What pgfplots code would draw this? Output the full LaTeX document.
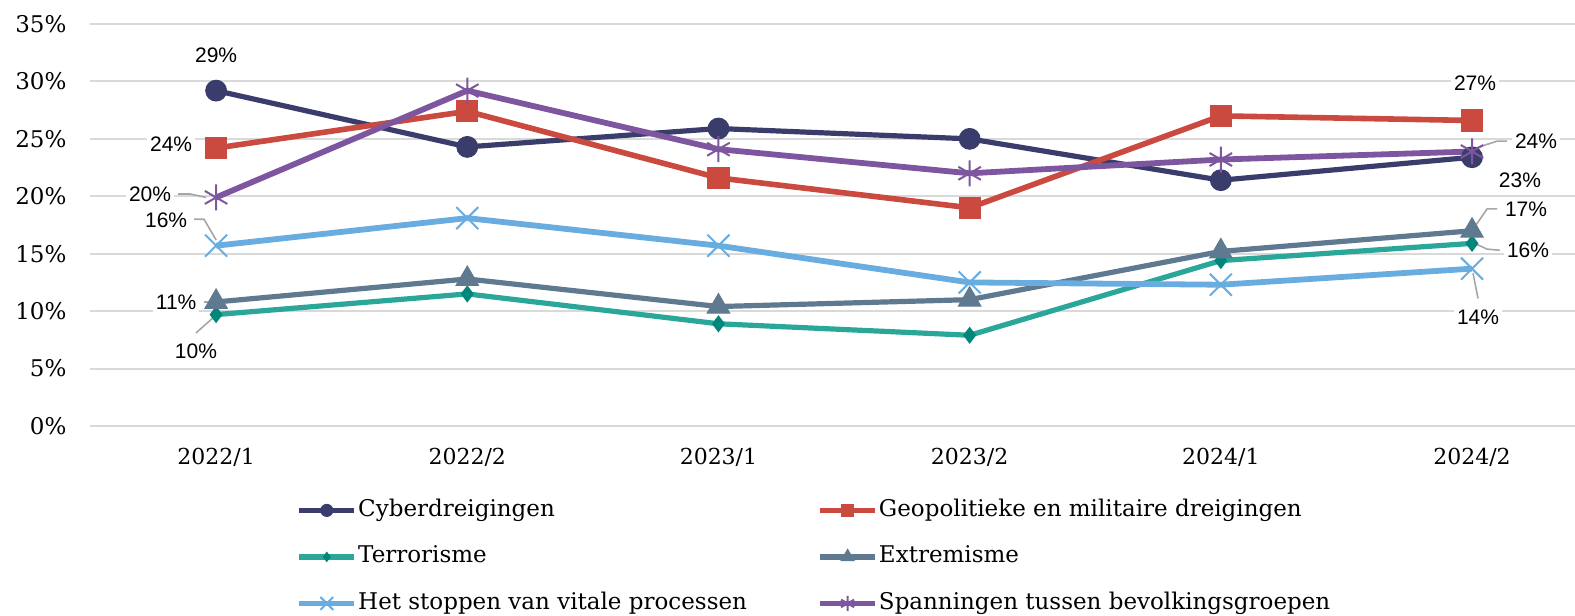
\documentclass[border=0pt]{standalone}
\usepackage{fontspec}
\setmainfont{DejaVu Serif}
\newfontfamily\lblfont{Liberation Sans}
\usepackage{pgfplots}
\pgfplotsset{compat=1.18}
\definecolor{cyber}{HTML}{3A3D6B}
\definecolor{geo}{HTML}{CB4A3F}
\definecolor{terror}{HTML}{2BA79A}
\definecolor{terrormk}{HTML}{008779}
\definecolor{extrem}{HTML}{5F7991}
\definecolor{vitale}{HTML}{69ADE0}
\definecolor{span}{HTML}{7E559F}
\definecolor{gridc}{HTML}{D9D9D9}
\definecolor{leadc}{HTML}{A6A6A6}
\begin{document}
\begin{tikzpicture}
\useasboundingbox (-45.25pt,-95pt) rectangle (742.25pt,213pt);
\begin{axis}[
  at={(0,0)}, anchor=south west,
  scale only axis, width=742.25pt, height=201pt,
  xmin=-0.5, xmax=5.41, ymin=0, ymax=35,
  axis line style={draw=none},
  xtick={0,1,2,3,4,5},
  xticklabels={2022/1,2022/2,2023/1,2023/2,2024/1,2024/2},
  ytick={0,5,10,15,20,25,30,35},
  yticklabels={0\%,5\%,10\%,15\%,20\%,25\%,30\%,35\%},
  tick style={draw=none},
  ymajorgrids, major grid style={gridc, line width=1pt},
  xticklabel style={font=\fontsize{11}{13}\selectfont, anchor=center, yshift=-15.5pt},
  yticklabel style={font=\fontsize{11.5}{13}\selectfont, anchor=east, xshift=-8.5pt},
  clip=false,
  legend columns=2,
  legend cell align=left,
  legend style={draw=none, fill=none, inner sep=0pt,
    at={(axis description cs:0,0)}, anchor=north west,
    xshift=102.75pt, yshift=-34.5pt,
    font=\fontsize{11.5}{13}\selectfont,
    row sep=8.25pt, column sep=0pt,
    nodes={inner ysep=2pt, inner xsep=0.5pt, text height=8.5pt, text depth=2.5pt}},
  legend image code/.code={%
    \draw[mark repeat=2, mark phase=2, #1, every mark/.append style={scale=0.58}]
      plot coordinates {(0pt,0pt) (13.75pt,0pt) (27.5pt,0pt)};},
]
\addplot[cyber, line width=2.6pt, mark=*, mark size=5.2pt, mark options={fill=cyber, draw=cyber, line width=0.5pt}]
  coordinates {(0,29.2) (1,24.3) (2,25.9) (3,25.0) (4,21.4) (5,23.4)};
\addlegendentry{\makebox[229pt][l]{Cyberdreigingen}}
\addplot[geo, line width=2.8pt, mark=square*, mark size=5.3pt, mark options={fill=geo, draw=geo, line width=0.5pt}]
  coordinates {(0,24.2) (1,27.4) (2,21.6) (3,19.0) (4,27.0) (5,26.6)};
\addlegendentry{Geopolitieke en militaire dreigingen}
\addplot[terror, line width=2.6pt, mark=diamond*, mark size=3.9pt, mark options={fill=terrormk, draw=terrormk, line width=0.5pt}]
  coordinates {(0,9.7) (1,11.5) (2,8.9) (3,7.9) (4,14.4) (5,15.9)};
\addlegendentry{\makebox[229pt][l]{Terrorisme}}
\addplot[extrem, line width=2.6pt, mark=triangle*, mark size=6.5pt, mark options={fill=extrem, draw=extrem, line width=0.5pt}]
  coordinates {(0,10.8) (1,12.8) (2,10.4) (3,11.0) (4,15.2) (5,17.0)};
\addlegendentry{Extremisme}
\addplot[vitale, line width=2.9pt, mark=x, mark size=7.8pt, mark options={draw=vitale, line width=1pt}]
  coordinates {(0,15.7) (1,18.1) (2,15.7) (3,12.5) (4,12.3) (5,13.7)};
\addlegendentry{\makebox[229pt][l]{Het stoppen van vitale processen}}
\addplot[span, line width=2.9pt, mark=asterisk, mark size=6.5pt, mark options={draw=span, line width=1pt}]
  coordinates {(0,19.9) (1,29.2) (2,24.1) (3,22.0) (4,23.2) (5,23.9)};
\addlegendentry{Spanningen tussen bevolkingsgroepen}

% leader lines
\draw[leadc, line width=0.8pt] (axis cs:-0.151,20.2) -- (axis cs:-0.103,20.2) -- (axis cs:-0.04,19.9);
\draw[leadc, line width=0.8pt] (axis cs:-0.0875,18.0) -- (axis cs:-0.048,18.0) -- (axis cs:0,16.2);
\draw[leadc, line width=0.8pt] (axis cs:-0.048,10.8) -- (axis cs:0.004,10.8);
\draw[leadc, line width=0.8pt] (axis cs:-0.08,8.1) -- (axis cs:0,9.66);
\draw[leadc, line width=0.8pt] (axis cs:5.139,24.8) -- (axis cs:5.1,24.8) -- (axis cs:5.0,24.1);
\draw[leadc, line width=0.8pt] (axis cs:5.1,18.9) -- (axis cs:5.06,18.9) -- (axis cs:5.0,17.0);
\draw[leadc, line width=0.8pt] (axis cs:5.111,15.3) -- (axis cs:5.06,15.4) -- (axis cs:5.0,16.0);
\draw[leadc, line width=0.8pt] (axis cs:5.024,11.1) -- (axis cs:5.004,13.3);

% data labels
\begin{scope}[every node/.style={font=\lblfont\fontsize{10.5}{12}\selectfont, fill=white, inner sep=1.5pt}]
\node at (axis cs:0,32.3) {29\%};
\node at (axis cs:-0.179,24.55) {24\%};
\node at (axis cs:-0.263,20.2) {20\%};
\node at (axis cs:-0.199,17.9) {16\%};
\node at (axis cs:-0.159,10.8) {11\%};
\node at (axis cs:-0.08,6.5) {10\%};
\node at (axis cs:5.012,29.8) {27\%};
\node at (axis cs:5.255,24.8) {24\%};
\node at (axis cs:5.191,21.4) {23\%};
\node at (axis cs:5.215,18.9) {17\%};
\node at (axis cs:5.223,15.3) {16\%};
\node at (axis cs:5.024,9.5) {14\%};
\end{scope}
\end{axis}
\end{tikzpicture}
\end{document}
